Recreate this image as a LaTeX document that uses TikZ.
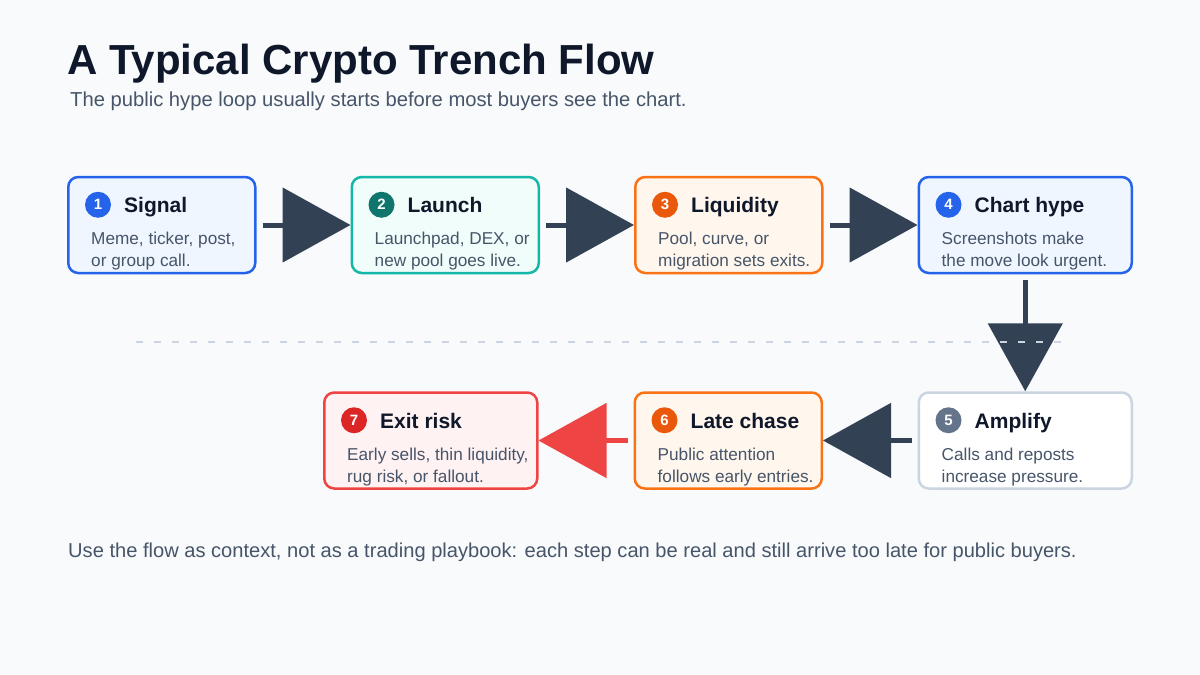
\documentclass[tikz,border=0pt]{standalone}
\usepackage{fontspec}
\setmainfont{Liberation Sans}
\usepackage{xcolor}
\usetikzlibrary{positioning, arrows.meta}

\definecolor{pagebg}{HTML}{F8FAFC}
\definecolor{ink}{HTML}{0F172A}
\definecolor{muted}{HTML}{475569}
\definecolor{arrowc}{HTML}{334155}
\definecolor{blueD}{HTML}{2563EB}
\definecolor{blueF}{HTML}{EFF6FF}
\definecolor{tealL}{HTML}{14B8A6}
\definecolor{tealF}{HTML}{F0FDFA}
\definecolor{tealD}{HTML}{0F766E}
\definecolor{orangeL}{HTML}{F97316}
\definecolor{orangeF}{HTML}{FFF7ED}
\definecolor{orangeD}{HTML}{EA580C}
\definecolor{grayL}{HTML}{CBD5E1}
\definecolor{grayD}{HTML}{64748B}
\definecolor{redL}{HTML}{EF4444}
\definecolor{redF}{HTML}{FEF2F2}
\definecolor{redD}{HTML}{DC2626}

\begin{document}
\begin{tikzpicture}[x=1pt,y=-1pt,
    stepbox/.style 2 args={draw=#1, fill=#2, line width=2.5pt, rounded corners=10pt,
        minimum width=187pt, minimum height=96pt, inner sep=0pt},
    wide/.style={minimum width=213pt},
    badge/.style={circle, fill=#1, text=white, minimum size=26pt, inner sep=0pt,
        font=\bfseries\fontsize{15}{15}\selectfont},
    steptitle/.style={anchor=base west, inner sep=0pt, text=ink,
        font=\bfseries\fontsize{21}{21}\selectfont},
    stepbody/.style={anchor=north west, inner sep=0pt, text=muted, align=left,
        font=\fontsize{17.2}{22}\selectfont},
    flow/.style={draw=arrowc, line width=5pt, shorten <=6pt,
        -{Triangle[length=68pt,width=74pt]}},
    divider/.style={draw=grayL, line width=2.5pt, dash pattern=on 7pt off 11pt}]

    \fill[pagebg] (0,0) rectangle (1200,675);
    \useasboundingbox (0,0) rectangle (1200,675);

    % heading
    \node[anchor=base west, inner sep=0pt, text=ink, font=\bfseries\fontsize{42}{42}\selectfont]
        (title) at (67,74) {A Typical Crypto Trench Flow};
    \node[anchor=base west, inner sep=0pt, text=muted, font=\fontsize{20.2}{20}\selectfont]
        (subtitle) at (70,106) {The public hype loop usually starts before most buyers see the chart.};

    % first row
    \node[stepbox={blueD}{blueF}] (s1) at (161.75,225) {};
    \node[stepbox={tealL}{tealF}] (s2) [right=94pt of s1] {};
    \node[stepbox={orangeL}{orangeF}] (s3) [right=94pt of s2] {};
    \node[stepbox={blueD}{blueF},wide] (s4) [right=94pt of s3] {};

    % second row
    \node[stepbox={grayL}{white},wide] (s5) [below=117pt of s4] {};
    \node[stepbox={orangeL}{orangeF}] (s6) [left=94.5pt of s5] {};
    \node[stepbox={redL}{redF},wide] (s7) [left=95pt of s6] {};

    \node[badge=blueD] (b1) at ([shift={(31,29)}]s1.north west) {1};
    \node[steptitle] (t1) at ([shift={(57,37)}]s1.north west) {Signal};
    \node[stepbody] (d1) at ([shift={(24,56.5)}]s1.north west) {Meme, ticker, post,\\or group call.};

    \node[badge=tealD] (b2) at ([shift={(31,29)}]s2.north west) {2};
    \node[steptitle] (t2) at ([shift={(57,37)}]s2.north west) {Launch};
    \node[stepbody] (d2) at ([shift={(24,56.5)}]s2.north west) {Launchpad, DEX, or\\new pool goes live.};

    \node[badge=orangeD] (b3) at ([shift={(31,29)}]s3.north west) {3};
    \node[steptitle] (t3) at ([shift={(57,37)}]s3.north west) {Liquidity};
    \node[stepbody] (d3) at ([shift={(24,56.5)}]s3.north west) {Pool, curve, or\\migration sets exits.};

    \node[badge=blueD] (b4) at ([shift={(31,29)}]s4.north west) {4};
    \node[steptitle] (t4) at ([shift={(57,37)}]s4.north west) {Chart hype};
    \node[stepbody] (d4) at ([shift={(24,56.5)}]s4.north west) {Screenshots make\\the move look urgent.};

    \node[badge=grayD] (b5) at ([shift={(31,29)}]s5.north west) {5};
    \node[steptitle] (t5) at ([shift={(57,37)}]s5.north west) {Amplify};
    \node[stepbody] (d5) at ([shift={(24,56.5)}]s5.north west) {Calls and reposts\\increase pressure.};

    \node[badge=orangeD] (b6) at ([shift={(31,29)}]s6.north west) {6};
    \node[steptitle] (t6) at ([shift={(57,37)}]s6.north west) {Late chase};
    \node[stepbody] (d6) at ([shift={(24,56.5)}]s6.north west) {Public attention\\follows early entries.};

    \node[badge=redD] (b7) at ([shift={(31,29)}]s7.north west) {7};
    \node[steptitle] (t7) at ([shift={(57,37)}]s7.north west) {Exit risk};
    \node[stepbody] (d7) at ([shift={(24,56.5)}]s7.north west) {Early sells, thin liquidity,\\rug risk, or fallout.};

    % connectors
    \draw[flow] (s1) -- (s2);
    \draw[flow] (s2) -- (s3);
    \draw[flow] (s3) -- (s4);
    \draw[flow] (s4) -- (s5);
    \draw[flow] (s5) -- (s6);
    \draw[flow, draw=redL, fill=redL] (s6) -- (s7);

    % row divider
    \coordinate (divL) at (136,342);
    \coordinate (divR) at (1062,342);
    \draw[divider] (divL) -- (divR);

    \node[anchor=base west, inner sep=0pt, text=muted, font=\fontsize{20.1}{20}\selectfont]
        (note) at (68,557) {Use the flow as context, not as a trading playbook: each step can be real and still arrive too late for public buyers.};
\end{tikzpicture}
\end{document}
